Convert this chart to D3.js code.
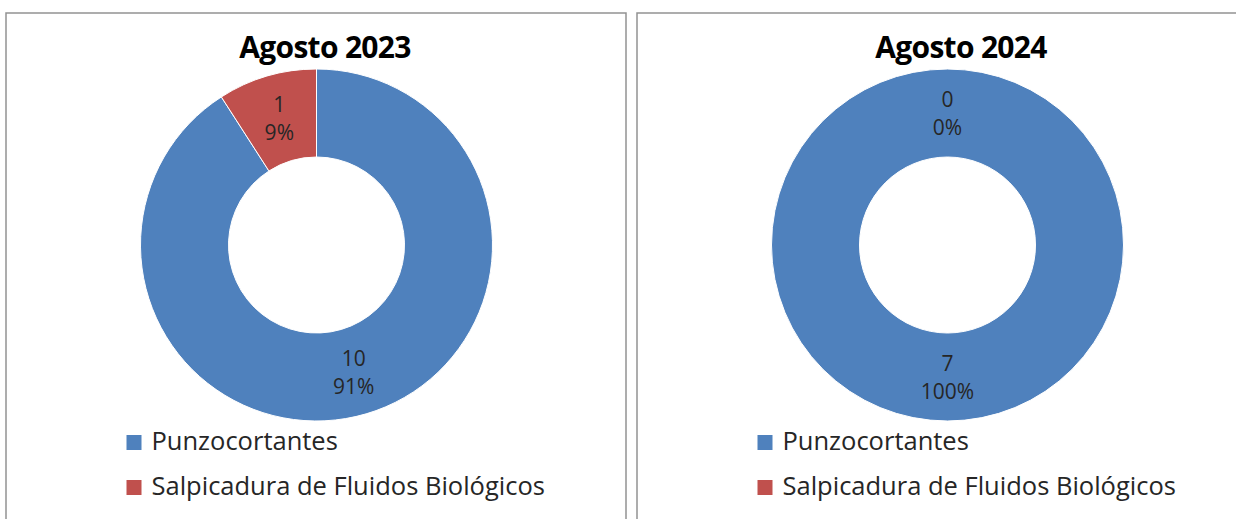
<!DOCTYPE html>
<html>
<head>
<meta charset="utf-8">
<script src="https://cdn.jsdelivr.net/npm/d3@7"></script>
<style>
  body { margin: 0; background: #fff; }
  svg { display: block; font-family: "Open Sans", Lato, sans-serif; }
</style>
</head>
<body>
<div id="chart"></div>
<script>
// data
var categories = ["Punzocortantes", "Salpicadura de Fluidos Biológicos"];
var titles = ["Agosto 2023", "Agosto 2024"];
var values2023 = [10, 1];
var values2024 = [7, 0];
var colors = ["#4F81BD", "#C0504D"];

var W = 1236, H = 519;

var svg = d3.select("#chart").append("svg")
    .attr("width", W)
    .attr("height", H);

svg.append("rect").attr("width", W).attr("height", H).attr("fill", "#fff");

// one panel per year
var panels = [
  {title: titles[0], values: values2023, x: 6, w: 620, cx: 316.5, tx: 325},
  {title: titles[1], values: values2024, x: 637, w: 620, cx: 947.5, tx: 961}
];

var color = d3.scaleOrdinal().domain(categories).range(colors);
var pct = d3.format(".0%");

var outerR = 176, innerR = 88, cy = 245;

var pie = d3.pie().sort(null).value(function(d) { return d.value; });
var arc = d3.arc().innerRadius(innerR).outerRadius(outerR);

panels.forEach(function(p) {
  var g = svg.append("g");

  g.append("rect")
      .attr("x", p.x).attr("y", 13)
      .attr("width", p.w).attr("height", 540)
      .attr("fill", "none")
      .attr("stroke", "#929292")
      .attr("stroke-width", 1.5);

  g.append("text")
      .attr("x", p.tx).attr("y", 58)
      .attr("text-anchor", "middle")
      .attr("font-size", 30)
      .attr("font-weight", "bold")
      .attr("letter-spacing", -0.7)
      .attr("fill", "#000")
      .text(p.title);

  var data = categories.map(function(c, i) { return {name: c, value: p.values[i]}; });
  var total = d3.sum(p.values);
  var arcs = pie(data);

  var donut = g.append("g").attr("transform", "translate(" + p.cx + "," + cy + ")");

  donut.selectAll("path")
      .data(arcs)
    .enter().append("path")
      .attr("d", arc)
      .attr("fill", function(d) { return color(d.data.name); })
      .attr("stroke", "#fff")
      .attr("stroke-width", function(d) { return d.data.value > 0 ? 1 : 0; });

  var lbl = donut.selectAll(".lbl")
      .data(arcs)
    .enter().append("text")
      .attr("class", "lbl")
      .attr("text-anchor", "middle")
      .attr("font-size", 21)
      .attr("fill", "#262626")
      .attr("transform", function(d) { return "translate(" + arc.centroid(d) + ")"; });

  lbl.append("tspan").attr("x", 0).attr("y", -6)
      .text(function(d) { return d.data.value; });
  lbl.append("tspan").attr("x", 0).attr("y", 22)
      .text(function(d) { return pct(d.data.value / total); });

  // legend
  var leg = g.selectAll(".leg")
      .data(categories)
    .enter().append("g")
      .attr("class", "leg")
      .attr("transform", function(d, i) { return "translate(" + (p.cx - 190) + "," + (450 + i * 45) + ")"; });

  leg.append("rect")
      .attr("x", 0).attr("y", -15)
      .attr("width", 15).attr("height", 15)
      .attr("fill", function(d) { return color(d); });

  leg.append("text")
      .attr("x", 25).attr("y", 0)
      .attr("font-size", 25.5)
      .attr("fill", "#262626")
      .text(function(d) { return d; });
});
</script>
</body>
</html>
